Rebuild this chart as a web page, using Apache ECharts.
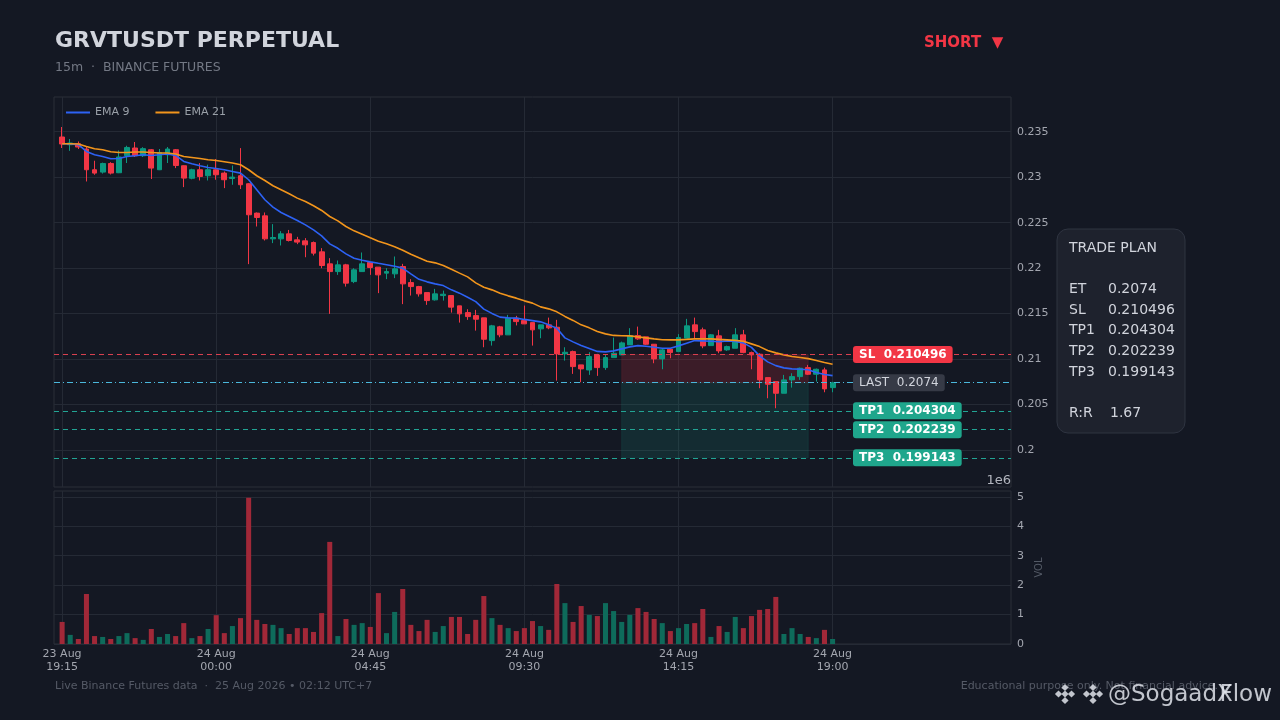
<!DOCTYPE html>
<html><head><meta charset="utf-8">
<script src="https://cdn.jsdelivr.net/npm/echarts@6/dist/echarts.min.js"></script>
<style>html,body{margin:0;padding:0;background:#141823;}#c{width:1280px;height:720px;}</style>
</head><body><div id="c"></div>
<script>
// ---- DATA ----
const xTickLabels = ['23 Aug\n19:15','24 Aug\n00:00','24 Aug\n04:45','24 Aug\n09:30','24 Aug\n14:15','24 Aug\n19:00'];
const xTickIndex = [0,19,38,57,76,95];
const priceTicks = [0.2,0.205,0.21,0.215,0.22,0.225,0.23,0.235];
const volTicks = [0,1,2,3,4,5];
// [open, close, low, high] per 15m candle
const candles = [
[0.23442,0.23365,0.23321,0.23552],[0.23357,0.23376,0.2329,0.2342],[0.23368,0.23332,0.2331,0.23393],[0.2331,0.23082,0.22953,0.23338],
[0.23082,0.23045,0.23027,0.23181],[0.23056,0.23151,0.2304,0.2316],[0.23151,0.23045,0.2303,0.23165],[0.23049,0.23222,0.23045,0.23294],
[0.23236,0.23327,0.23156,0.23346],[0.23321,0.23236,0.23222,0.23387],[0.23236,0.23314,0.23222,0.2333],[0.23302,0.231,0.2298,0.2331],
[0.23082,0.23272,0.23078,0.2331],[0.23247,0.2331,0.23156,0.23332],[0.23302,0.23129,0.231,0.2331],[0.23126,0.2299,0.22891,0.2313],
[0.22988,0.23082,0.22977,0.23093],[0.23082,0.23008,0.22964,0.23155],[0.23016,0.23082,0.22964,0.23138],[0.23082,0.23027,0.22972,0.232],
[0.23045,0.22972,0.2288,0.23063],[0.22986,0.23001,0.22917,0.23129],[0.23016,0.22917,0.2287,0.2332],[0.22928,0.22587,0.22044,0.22935],
[0.22605,0.22557,0.22458,0.22612],[0.22575,0.22322,0.22304,0.22612],[0.22322,0.22337,0.22275,0.22484],[0.22322,0.22377,0.22249,0.22407],
[0.22377,0.22304,0.22293,0.2242],[0.22311,0.22286,0.22264,0.22344],[0.223,0.22256,0.2212,0.2233],[0.22282,0.22165,0.22139,0.22293],
[0.22179,0.22029,0.21999,0.2222],[0.22047,0.21962,0.21497,0.2211],[0.21962,0.22036,0.21926,0.22084],[0.22036,0.21835,0.21797,0.22047],
[0.21852,0.21981,0.21835,0.21999],[0.21962,0.22047,0.21962,0.22172],[0.22062,0.22007,0.21926,0.22062],[0.22011,0.21926,0.21725,0.22011],
[0.21945,0.21962,0.21879,0.22],[0.21937,0.21992,0.2189,0.22128],[0.22018,0.21827,0.21604,0.22047],[0.21841,0.21797,0.21698,0.21879],
[0.21797,0.21717,0.21687,0.21805],[0.21731,0.21643,0.21596,0.21731],[0.21651,0.21717,0.21643,0.21772],[0.21698,0.21713,0.21643,0.21753],
[0.21698,0.21571,0.21511,0.21698],[0.21585,0.21497,0.21401,0.21585],[0.21511,0.21467,0.21431,0.21548],[0.21478,0.21438,0.21313,0.21541],
[0.21453,0.21218,0.2113,0.21453],[0.21203,0.21365,0.21148,0.21376],[0.21354,0.21266,0.2124,0.21365],[0.21266,0.2145,0.21266,0.21486],
[0.2145,0.21412,0.2137,0.21475],[0.21423,0.21387,0.21387,0.21588],[0.21401,0.21321,0.21148,0.21401],[0.21332,0.21376,0.21229,0.21376],
[0.21376,0.21343,0.21328,0.21456],[0.2135,0.21057,0.20763,0.21431],[0.21057,0.21075,0.20983,0.2113],[0.21082,0.20917,0.20837,0.21093],
[0.20936,0.20892,0.20745,0.20936],[0.2088,0.21027,0.20826,0.21075],[0.21046,0.20906,0.20815,0.21057],[0.20906,0.21016,0.20881,0.21046],
[0.21016,0.21064,0.21016,0.21236],[0.21046,0.21178,0.21046,0.21192],[0.21156,0.21258,0.21156,0.2134],[0.21258,0.21222,0.21211,0.21357],
[0.21244,0.21163,0.21156,0.21244],[0.21163,0.21002,0.20954,0.21163],[0.21002,0.21101,0.20888,0.21119],[0.21108,0.21071,0.21009,0.21112],
[0.21082,0.21236,0.21082,0.21274],[0.2123,0.21365,0.2123,0.21442],[0.21376,0.21302,0.2123,0.21456],[0.21321,0.21145,0.21119,0.21346],
[0.21148,0.21266,0.21148,0.21274],[0.21255,0.2109,0.21064,0.21321],[0.21101,0.21137,0.2109,0.21148],[0.21119,0.21266,0.21119,0.2134],
[0.21266,0.21071,0.21064,0.21321],[0.21071,0.21046,0.20888,0.21082],[0.21053,0.20771,0.20679,0.21064],[0.20796,0.20723,0.20569,0.20796],
[0.20752,0.20624,0.20459,0.20752],[0.20624,0.20771,0.20624,0.20826],[0.20771,0.20807,0.20686,0.20844],[0.20807,0.20899,0.20771,0.20906],
[0.20906,0.20833,0.20826,0.20936],[0.20833,0.20888,0.20752,0.20895],[0.20881,0.20672,0.20635,0.20906],[0.20686,0.2074,0.20635,0.2075]
];
// volume in millions
const volumeM = [
0.75,0.31,0.17,1.70,0.27,0.24,0.17,0.27,0.37,0.20,
0.14,0.51,0.24,0.34,0.27,0.71,0.20,0.27,0.51,0.98,
0.37,0.61,0.88,4.97,0.82,0.68,0.65,0.54,0.34,0.54,
0.54,0.41,1.05,3.47,0.27,0.85,0.65,0.71,0.58,1.73,
0.37,1.09,1.87,0.65,0.44,0.82,0.41,0.61,0.92,0.92,
0.34,0.82,1.63,0.88,0.65,0.54,0.44,0.54,0.78,0.61,
0.48,2.04,1.39,0.75,1.29,0.99,0.95,1.39,1.12,0.75,
0.99,1.22,1.09,0.85,0.71,0.44,0.54,0.68,0.71,1.19,
0.24,0.61,0.41,0.92,0.54,0.95,1.16,1.19,1.60,0.34,
0.54,0.34,0.24,0.20,0.48,0.17
];
const ema9 = [
0.23368,0.23365,0.23357,0.23283,0.23247,0.23228,0.23203,0.23206,0.23228,0.23236,
0.23247,0.23239,0.23247,0.23255,0.23239,0.23173,0.23148,0.23126,0.23107,0.23096,
0.23082,0.23063,0.23045,0.22972,0.22862,0.22752,0.22671,0.22612,0.22568,0.22524,
0.22476,0.22421,0.22355,0.22267,0.22218,0.22157,0.22108,0.22086,0.22069,0.22053,
0.22038,0.2202,0.22,0.21937,0.21877,0.21849,0.21827,0.21808,0.21761,0.21725,
0.21679,0.21632,0.21549,0.21502,0.21461,0.21453,0.2145,0.21436,0.21423,0.21409,
0.21376,0.2134,0.21233,0.21189,0.2115,0.21117,0.21084,0.21079,0.2109,0.21112,
0.21134,0.21148,0.21141,0.2113,0.21119,0.21119,0.21145,0.21174,0.21203,0.212,
0.21196,0.21192,0.212,0.21194,0.21178,0.21128,0.21035,0.20969,0.20928,0.20903,
0.20892,0.20888,0.20883,0.20853,0.20831,0.20818
];
const ema21 = [
0.23368,0.23368,0.23365,0.23338,0.23313,0.23302,0.2328,0.23272,0.23272,0.23277,
0.23277,0.23272,0.23266,0.23266,0.23255,0.23228,0.23217,0.23206,0.23192,0.23184,
0.2317,0.23156,0.23137,0.23082,0.23016,0.22964,0.22906,0.22862,0.22818,0.2277,
0.22733,0.22686,0.22634,0.22568,0.2252,0.22458,0.2241,0.22372,0.22333,0.22295,
0.22267,0.22234,0.22196,0.22152,0.22113,0.22075,0.22058,0.22029,0.21987,0.21945,
0.21904,0.21838,0.21789,0.21761,0.21725,0.21695,0.2167,0.2164,0.21615,0.21574,
0.21552,0.21519,0.21469,0.21425,0.21376,0.21343,0.21304,0.21277,0.2126,0.21257,
0.21255,0.21244,0.21233,0.21222,0.21213,0.21211,0.21211,0.21216,0.21222,0.21224,
0.21222,0.21216,0.21211,0.21205,0.21196,0.21167,0.21137,0.21095,0.21068,0.21046,
0.21029,0.21018,0.21005,0.20985,0.20963,0.20943
];
const tradeLevels = {ET:0.2074, SL:0.210496, TP1:0.204304, TP2:0.202239, TP3:0.199143};
const rr = '1.67';
const zoneStart = 69, zoneEnd = 92; // candle indices of the trade zone

// ---- BUILD ----
const PAD_LEFT = 1, PAD_RIGHT = 22;
const N = candles.length;
const cats = [];
for (let k = 0; k < PAD_LEFT; k++) cats.push('padL' + k);
for (let k = 0; k < N; k++) {
  const t = xTickIndex.indexOf(k);
  cats.push(t >= 0 ? xTickLabels[t] : 'c' + k);
}
for (let k = 0; k < PAD_RIGHT; k++) cats.push('padR' + k);
const tickCat = xTickIndex.map(k => k + PAD_LEFT);
const showTick = (idx) => tickCat.indexOf(idx) >= 0;

const UP = '#0b9981', DOWN = '#f23645';
const VUP = '#0e6b5b', VDOWN = '#a12838';
const candleData = candles.map((d, k) => [k + PAD_LEFT, d[0], d[1], d[2], d[3]]);
const volData = volumeM.map((v, k) => ({
  value: [k + PAD_LEFT, v],
  itemStyle: {color: candles[k][1] >= candles[k][0] ? VUP : VDOWN}
}));
const ema9Data = ema9.map((v, k) => [k + PAD_LEFT, v]);
const ema21Data = ema21.map((v, k) => [k + PAD_LEFT, v]);

const FONT = 'DejaVu Sans';
const GRID_LINE = '#252a35';
const AXIS_TXT = '#a3a6af';
const TP_LINE = '#22a494';

const chart = echarts.init(document.getElementById('c'), null, {renderer: 'canvas'});
const option = {
  backgroundColor: '#141823',
  animation: false,
  textStyle: {fontFamily: FONT},
  title: {
    text: 'GRVTUSDT PERPETUAL', left: 50, top: 25,
    textStyle: {color: '#d1d4dc', fontSize: 22, fontWeight: 'bold', fontFamily: FONT},
    subtext: '15m  ·  BINANCE FUTURES', itemGap: 9,
    subtextStyle: {color: '#737884', fontSize: 12.5, fontFamily: FONT}
  },
  legend: {
    left: 61, top: 102, icon: 'rect', itemWidth: 24, itemHeight: 2, itemGap: 26,
    textStyle: {color: '#9aa0a8', fontSize: 11, fontFamily: FONT},
    data: ['EMA 9', 'EMA 21']
  },
  grid: [
    {left: 54, right: 269, top: 97, height: 390, show: true, borderColor: '#2a2e39', borderWidth: 1, backgroundColor: 'transparent'},
    {left: 54, right: 269, top: 491, height: 153, show: true, borderColor: '#2a2e39', borderWidth: 1, backgroundColor: 'transparent'}
  ],
  xAxis: [
    {type: 'category', gridIndex: 0, data: cats, boundaryGap: false,
     axisLine: {show: false}, axisTick: {show: false}, axisLabel: {show: false},
     splitLine: {show: true, interval: (i) => showTick(i), lineStyle: {color: GRID_LINE, width: 1}}},
    {type: 'category', gridIndex: 1, data: cats, boundaryGap: false,
     axisLine: {show: false}, axisTick: {show: false},
     axisLabel: {show: true, interval: (i) => showTick(i), color: AXIS_TXT, fontSize: 11, lineHeight: 13, margin: 4, fontFamily: FONT,
       formatter: (v) => v},
     splitLine: {show: true, interval: (i) => showTick(i), lineStyle: {color: GRID_LINE, width: 1}}}
  ],
  yAxis: [
    {type: 'value', gridIndex: 0, position: 'right', min: 0.19593, max: 0.23882, scale: true,
     axisLine: {show: false},
     axisTick: {show: false, customValues: priceTicks},
     axisLabel: {customValues: priceTicks, color: AXIS_TXT, fontSize: 11, margin: 6, fontFamily: FONT},
     splitLine: {show: true, lineStyle: {color: GRID_LINE, width: 1}}},
    {type: 'value', gridIndex: 1, position: 'right', min: 0, max: 5.2,
     name: 'VOL', nameLocation: 'middle', nameRotate: 90, nameGap: 13,
     nameTextStyle: {color: '#545a66', fontSize: 10, fontFamily: FONT},
     axisLine: {show: false},
     axisTick: {show: false, customValues: volTicks},
     axisLabel: {customValues: volTicks, color: AXIS_TXT, fontSize: 11, margin: 6, fontFamily: FONT},
     splitLine: {show: true, lineStyle: {color: GRID_LINE, width: 1}}}
  ],
  series: [
    {
      name: 'price', type: 'candlestick', xAxisIndex: 0, yAxisIndex: 0,
      encode: {x: 0, y: [1, 2, 3, 4]},
      data: candleData, barWidth: '66%',
      itemStyle: {color: UP, color0: DOWN, borderColor: UP, borderColor0: DOWN, borderWidth: 1},
      markArea: {
        silent: true,
        data: [
          [{xAxis: zoneStart + PAD_LEFT, yAxis: tradeLevels.SL, itemStyle: {color: 'rgba(200,45,60,0.22)', borderColor: 'rgba(200,45,60,0.35)', borderWidth: 0.5}},
           {xAxis: zoneEnd + PAD_LEFT, yAxis: tradeLevels.ET}],
          [{xAxis: zoneStart + PAD_LEFT, yAxis: tradeLevels.ET, itemStyle: {color: 'rgba(22,140,120,0.18)', borderColor: 'rgba(22,140,120,0.35)', borderWidth: 0.5}},
           {xAxis: zoneEnd + PAD_LEFT, yAxis: tradeLevels.TP3}]
        ]
      },
      z: 3
    },
    {name: 'levels', type: 'line', xAxisIndex: 0, yAxisIndex: 0, data: [], z: 2,
     markLine: {
        silent: true, symbol: ['none', 'none'], label: {show: false}, precision: 6,
        data: [
          {yAxis: tradeLevels.SL, lineStyle: {color: '#d9404f', type: [5, 4], width: 1}},
          {yAxis: tradeLevels.ET, lineStyle: {color: '#4bb8dc', type: [6, 3, 1, 3], width: 1}},
          {yAxis: tradeLevels.TP1, lineStyle: {color: TP_LINE, type: [5, 4], width: 1}},
          {yAxis: tradeLevels.TP2, lineStyle: {color: TP_LINE, type: [5, 4], width: 1}},
          {yAxis: tradeLevels.TP3, lineStyle: {color: TP_LINE, type: [5, 4], width: 1}}
        ]
     }},
    {name: 'EMA 9', type: 'line', xAxisIndex: 0, yAxisIndex: 0, data: ema9Data, showSymbol: false, symbol: 'none',
     color: '#2d62f5', lineStyle: {color: '#2d62f5', width: 1.6}, z: 4},
    {name: 'EMA 21', type: 'line', xAxisIndex: 0, yAxisIndex: 0, data: ema21Data, showSymbol: false, symbol: 'none',
     color: '#f2951c', lineStyle: {color: '#f2951c', width: 1.6}, z: 4},
    {name: 'Volume', type: 'bar', xAxisIndex: 1, yAxisIndex: 1, data: volData, barWidth: '62%'}
  ]
};
chart.setOption(option);

// ---- overlays positioned through the library's scales ----
const py = (v) => chart.convertToPixel({yAxisIndex: 0}, v);
const g = [];
function tag(txt, val, bg, fg, bold) {
  g.push({type: 'text', z: 50, x: 853, y: py(val),
    style: {text: txt, fill: fg, backgroundColor: bg, padding: [3, 6, 2, 6], borderRadius: 3,
      fontSize: 12, fontWeight: bold ? 'bold' : 'normal', fontFamily: FONT, verticalAlign: 'middle', align: 'left'}});
}
tag('SL  ' + tradeLevels.SL, tradeLevels.SL, '#f23645', '#ffffff', true);
tag('LAST  ' + tradeLevels.ET, tradeLevels.ET, '#363a46', '#d1d4dc', false);
tag('TP1  ' + tradeLevels.TP1, tradeLevels.TP1, '#1fa68c', '#ffffff', true);
tag('TP2  ' + tradeLevels.TP2, tradeLevels.TP2, '#1fa68c', '#ffffff', true);
tag('TP3  ' + tradeLevels.TP3, tradeLevels.TP3, '#1fa68c', '#ffffff', true);

// SHORT marker
g.push({type: 'text', x: 924, y: 43, style: {text: 'SHORT  ▼', fill: '#f23645', fontSize: 15, fontWeight: 'bold', fontFamily: FONT, verticalAlign: 'middle'}});
// 1e6 offset text
g.push({type: 'text', x: 1011, y: 481, style: {text: '1e6', fill: '#b2b5be', fontSize: 13, fontFamily: FONT, align: 'right', verticalAlign: 'middle'}});

// Trade plan panel
g.push({type: 'rect', shape: {x: 1057, y: 229, width: 128, height: 204, r: 11}, style: {fill: '#1e222d', stroke: '#2f3441', lineWidth: 1}});
const planRows = [
  ['TRADE PLAN', '', 248],
  ['ET', String(tradeLevels.ET), 289],
  ['SL', String(tradeLevels.SL), 310],
  ['TP1', String(tradeLevels.TP1), 330],
  ['TP2', String(tradeLevels.TP2), 351],
  ['TP3', String(tradeLevels.TP3), 372],
  ['R:R', rr, 413]
];
planRows.forEach(r => {
  g.push({type: 'text', x: 1069, y: r[2], style: {text: r[0], fill: '#d1d4dc', fontSize: 14, fontFamily: FONT, verticalAlign: 'middle'}});
  if (r[1]) g.push({type: 'text', x: r[0] === 'R:R' ? 1110 : 1108, y: r[2], style: {text: r[1], fill: '#d1d4dc', fontSize: 14, fontFamily: FONT, verticalAlign: 'middle'}});
});

// footer
g.push({type: 'text', x: 55, y: 686, style: {text: 'Live Binance Futures data  ·  25 Aug 2026 • 02:12 UTC+7', fill: '#555a66', fontSize: 11, fontFamily: FONT, verticalAlign: 'middle'}});
g.push({type: 'text', x: 1218, y: 686, style: {text: 'Educational purpose only. Not financial advice.', fill: '#555a66', fontSize: 11, fontFamily: FONT, align: 'right', verticalAlign: 'middle'}});
// watermark
function diamond(cx, cy) {
  const s = 3.6;
  [[0,-6.5],[-6.5,0],[6.5,0],[0,6.5],[0,0]].forEach(p => {
    g.push({type: 'polygon', z: 60, shape: {points: [[cx+p[0], cy+p[1]-s], [cx+p[0]+s, cy+p[1]], [cx+p[0], cy+p[1]+s], [cx+p[0]-s, cy+p[1]]]},
      style: {fill: 'rgba(225,228,235,0.85)'}});
  });
}
diamond(1065, 694);
diamond(1093, 694);
g.push({type: 'text', z: 60, x: 1108, y: 695, style: {text: '@SogaadX', fill: 'rgba(225,228,235,0.85)', fontSize: 23, fontFamily: FONT, verticalAlign: 'middle'}});
g.push({type: 'text', z: 60, x: 1272, y: 695, style: {text: 'Flow', fill: 'rgba(225,228,235,0.85)', fontSize: 23, fontFamily: FONT, align: 'right', verticalAlign: 'middle'}});

chart.setOption({graphic: g});
</script>
</body></html>
